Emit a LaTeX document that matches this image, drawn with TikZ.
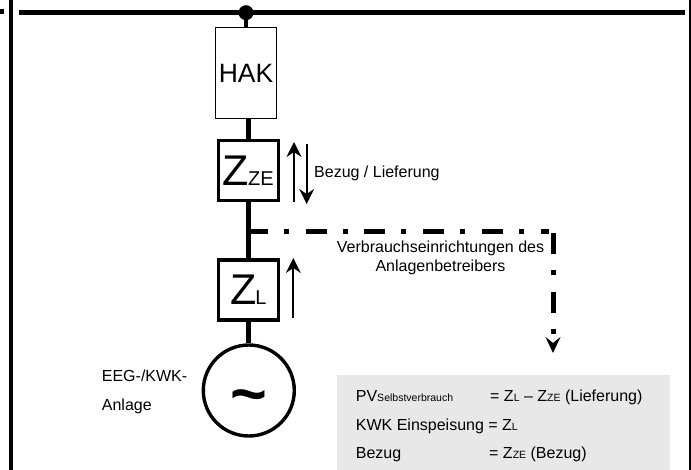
\documentclass[tikz,border=0pt]{standalone}
\usepackage{amsmath}
\usepackage{xcolor}
\usepackage{fontspec}
\setmainfont{Liberation Sans}
\usetikzlibrary{arrows.meta}
\tikzset{
meter/.style={rectangle, draw=black, line width=3.4bp, fill=white, minimum width=60bp, minimum height=60bp, inner sep=0pt},
wire/.style={line width=4.8bp},
flow/.style={line width=1.7bp, -{Stealth[length=15bp,width=15bp,inset=5bp]}},
branchline/.style={line width=5bp, dash pattern=on 21bp off 16bp on 5bp off 16.7bp},
lbl/.style={font=\fontsize{16bp}{19bp}\selectfont, inner sep=0pt, anchor=base west},
}
\newcommand{\sub}[1]{{\fontsize{10.5bp}{12bp}\selectfont #1}}
\newcommand{\meterlabel}[1]{\fontsize{43bp}{44bp}\selectfont Z\kern-1bp\fontsize{20bp}{22bp}\selectfont #1}
\begin{document}
\begin{tikzpicture}[x=1bp,y=-1bp]
\useasboundingbox (0,0) rectangle (691,470);

\fill[black!9] (337,375) rectangle (670,470);

\draw[line width=5bp] (0,12)--(4,12);
\draw[line width=3.8bp] (10.7,0)--(10.7,470);
\draw[line width=3bp] (690.5,0)--(690.5,470);
\draw[line width=5.3bp] (19,12.5)--(685,12.5);

\node[circle, fill=black, inner sep=0pt, minimum size=15bp] (dot) at (246,12.7) {};
\node[rectangle, draw=black, line width=1.3bp, fill=white, minimum width=61bp, minimum height=91bp, inner sep=0pt] (hak) at (246,73) {\fontsize{26.5bp}{28bp}\selectfont HAK};
\node[meter] (zze) at (248.3,170.5) {\meterlabel{ZE}};
\node[meter] (zl) at (248.3,290) {\meterlabel{L}};
\node[circle, draw=black, line width=3.4bp, fill=white, minimum size=91bp, inner sep=0pt] (gen) at (248.8,390.5) {};
\node[inner sep=0pt] (tilde) at (248.8,403) {\fontsize{63bp}{63bp}\selectfont\textbf{\char"007E}};

\coordinate (branch) at (247,231.6);
\coordinate (branchend) at (549,231.6);
\coordinate (corner) at (553,233);
\coordinate (loadend) at (553,353);

\draw[wire] (dot)--(hak);
\draw[wire] (hak.south -| zze)--(zze);
\draw[wire] (zze)--(zl);
\draw[wire] (zl)--(zl |- gen.north);

\draw[branchline] (branch)--(branchend);
\draw[branchline, -{Stealth[length=16bp,width=15bp,inset=6bp]}] (corner)--(loadend);

\coordinate (zzeup) at (294,202);
\coordinate (zzeupend) at (294,142);
\coordinate (zzedown) at (306.7,144);
\coordinate (zzedownend) at (306.7,204);
\coordinate (zlup) at (293.3,318);
\coordinate (zlupend) at (293.3,258);
\draw[flow] (zzeup)--(zzeupend);
\draw[flow] (zzedown)--(zzedownend);
\draw[flow] (zlup)--(zlupend);

\node[lbl] (bezug) at (314,178) {Bezug / Lieferung};
\node[lbl, anchor=base, align=center] (verbrauch) at (440.5,272) {Verbrauchseinrichtungen des\\Anlagenbetreibers};
\node[lbl] (eeg) at (101.7,381.7) {EEG-/KWK-};
\node[lbl] (anlage) at (101.7,410.7) {Anlage};

\node[lbl] (pv) at (355.7,401.7) {PV\sub{Selbstverbrauch}};
\node[lbl] (pveq) at (490,401.7) {= Z\sub{L} -- Z\sub{ZE} (Lieferung)};
\node[lbl] (kwk) at (355.7,430) {KWK Einspeisung = Z\sub{L}};
\node[lbl] (bez) at (355.7,458) {Bezug};
\node[lbl] (bezeq) at (489,458) {= Z\sub{ZE} (Bezug)};
\end{tikzpicture}
\end{document}
